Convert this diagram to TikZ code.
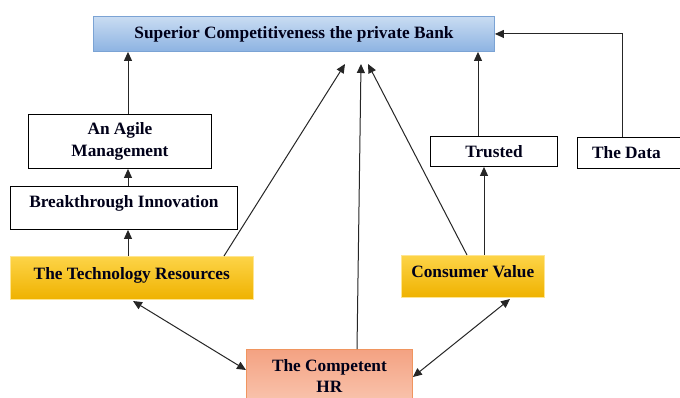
\documentclass[tikz,border=0pt]{standalone}
\usepackage{fontspec}
\setmainfont{Liberation Serif}
\usetikzlibrary{arrows.meta,calc}
\definecolor{bluetop}{HTML}{C9DCF2}
\definecolor{bluebot}{HTML}{8DB3E2}
\definecolor{blueline}{HTML}{7BA3D4}
\definecolor{goldtop}{HTML}{FDD448}
\definecolor{goldbot}{HTML}{EFB200}
\definecolor{salmtop}{HTML}{F4A282}
\definecolor{salmbot}{HTML}{F9C6B0}
\definecolor{salmline}{HTML}{F0955F}
\definecolor{arrgray}{HTML}{262626}
\tikzset{
  txt/.style={font=\fontsize{17.3}{21.5}\selectfont\bfseries, text=black!90!blue, align=center, inner sep=0pt},
  plainbox/.style={txt, draw=black, line width=0.9pt, fill=white, anchor=north west},
  bluebox/.style={txt, draw=blueline, line width=0.9pt, top color=bluetop, bottom color=bluebot, anchor=north west},
  goldbox/.style={txt, draw=goldtop!60!white, line width=0.5pt, top color=goldtop, bottom color=goldbot, anchor=north west},
  salmbox/.style={txt, draw=salmline, line width=0.9pt, top color=salmtop, bottom color=salmbot, anchor=north west},
  arr/.style={draw=arrgray, line width=1pt, -{Triangle[length=9pt,width=8pt]}},
  darr/.style={draw=arrgray, line width=1pt, {Triangle[length=9pt,width=8pt]}-{Triangle[length=9pt,width=8pt]}}
}
\begin{document}
\begin{tikzpicture}[x=1pt,y=-1pt]
\useasboundingbox (0,0) rectangle (680,397);
\fill[white] (0,0) rectangle (680,397);
\node[bluebox, minimum width=401pt, minimum height=35pt] (top) at (93,16) {Superior Competitiveness the private Bank};
\node[plainbox, minimum width=183pt, minimum height=54pt] (agile) at (28,114) {An Agile\\Management};
\node[plainbox, minimum width=227pt, minimum height=43pt, text depth=13pt] (innov) at (10,186) {Breakthrough Innovation};
\node[goldbox, minimum width=243pt, minimum height=43pt, text depth=9pt] (tech) at (10,256) {The Technology Resources};
\node[goldbox, minimum width=143pt, minimum height=42pt, text depth=10pt] (cons) at (401,255) {Consumer Value};
\node[salmbox, minimum width=166pt, minimum height=56pt, text depth=3pt] (hr) at (246,349) {The Competent\\HR};
\node[plainbox, minimum width=127pt, minimum height=30pt] (trust) at (430,136) {Trusted};
\node[plainbox, minimum width=106pt, minimum height=31pt] (data) at (577,137) {\hspace*{-8pt}The Data};
% helper coordinates
\coordinate (vx) at (128,0);
\coordinate (tx) at (478,0);
\coordinate (cx) at (484,0);
\coordinate (dx) at (622,0);
\coordinate (ta) at (224,0);
\coordinate (ca) at (467,0);
\coordinate (ha) at (357,0);
\coordinate (t1) at (345,64);
\coordinate (t2) at (361,64);
\coordinate (t3) at (368,64);
% vertical chain
\draw[arr] (agile.north -| vx) -- (top.south -| vx);
\draw[arr] (innov.north -| vx) -- (agile.south -| vx);
\draw[arr] (tech.north -| vx) -- (innov.south -| vx);
% to top centre
\draw[arr] (tech.north -| ta) -- (t1);
\draw[arr] (hr.north -| ha) -- (t2);
\draw[arr] (cons.north -| ca) -- (t3);
% right side
\draw[arr] (cons.north -| cx) -- (trust.south -| cx);
\draw[arr] (trust.north -| tx) -- (top.south -| tx);
\draw[arr] (data.north -| dx) |- (top.east);
% double arrows
\coordinate (tb) at (133,301);
\coordinate (cb) at (510,299);
\draw[darr] (tb) -- (hr.west |- 0,370);
\draw[darr] (cb) -- (hr.east |- 0,377);
\end{tikzpicture}
\end{document}
